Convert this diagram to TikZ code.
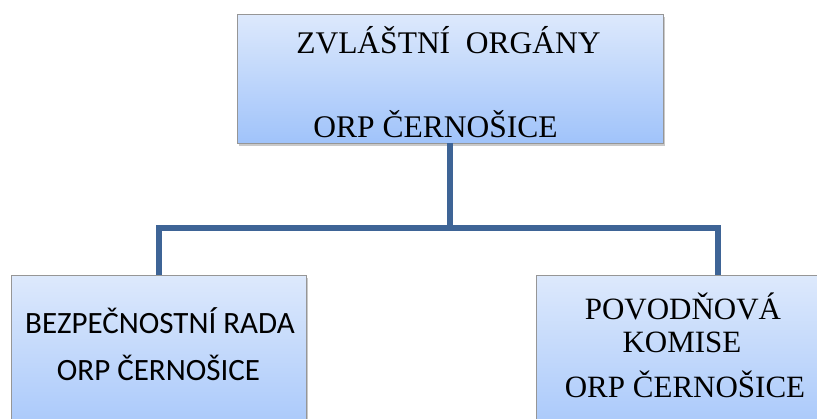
\documentclass[tikz,border=0pt]{standalone}
\usepackage{fontspec}
\setmainfont{Liberation Serif}
\newfontfamily\calib{Carlito}
\usetikzlibrary{shadows}
\definecolor{linkblue}{RGB}{62,100,150}
\definecolor{boxtop}{RGB}{221,233,252}
\definecolor{boxbot}{RGB}{160,195,250}
\definecolor{boxedge}{RGB}{150,150,150}
\tikzset{
  orgbox/.style={draw=boxedge, line width=0.8pt, top color=boxtop, bottom color=boxbot,
    rectangle, inner sep=0pt,
    drop shadow={shadow xshift=2pt, shadow yshift=-3pt, opacity=0.35, fill=black!60}},
  conn/.style={draw=linkblue, line width=6pt, line join=miter},
  serifl/.style={anchor=base, inner sep=0pt, font=\fontsize{31.5}{36}\selectfont},
  calibl/.style={anchor=base, inner sep=0pt, font=\calib\fontsize{31}{36}\selectfont},
}
\begin{document}
\begin{tikzpicture}[x=1pt,y=-1pt]
\useasboundingbox (0,0) rectangle (817,418);
\clip (0,0) rectangle (817,418);
\fill[white] (0,0) rectangle (817,418);
\node[orgbox, minimum width=426pt, minimum height=129pt] (top) at (450,78.5) {};
\node[orgbox, minimum width=295pt, minimum height=180pt] (lb) at (158.5,365) {};
\node[orgbox, minimum width=364pt, minimum height=180pt] (rb) at (718,365) {};
\coordinate (mid) at (450,228);
\draw[conn] (top.south) -- (mid);
\draw[conn] (lb.north) |- (mid) -| (rb.north);
\node[serifl] (t1) at (448.5,53) {ZVLÁŠTNÍ\ \ ORGÁNY};
\node[serifl] (t2) at (435.5,137) {ORP ČERNOŠICE};
\node[calibl] (l1) at (160,333) {BEZPEČNOSTNÍ RADA};
\node[calibl] (l2) at (158.5,380) {ORP ČERNOŠICE};
\node[serifl, font=\fontsize{31}{36}\selectfont] (r1) at (683,319) {POVODŇOVÁ};
\node[serifl, font=\fontsize{31}{36}\selectfont] (r2) at (682,352) {KOMISE};
\node[serifl, font=\fontsize{31}{36}\selectfont] (r3) at (685,397) {ORP ČERNOŠICE};
\end{tikzpicture}
\end{document}
